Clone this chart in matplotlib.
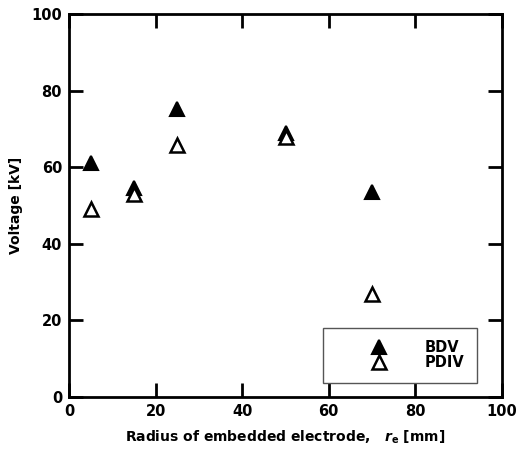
import matplotlib
matplotlib.use("Agg")
import matplotlib.pyplot as plt

radius = [5, 15, 25, 50, 70]
bdv = [61, 54.5, 75.3, 69, 53.5]
pdiv = [49.2, 53, 65.8, 68, 27]

plt.rcParams["font.family"] = ["DejaVu Sans"]
plt.rcParams["font.weight"] = "bold"
plt.rcParams["mathtext.fontset"] = "dejavusans"

fig = plt.figure(figsize=(5.16, 4.62), dpi=100)
ax = fig.add_axes([69 / 516, 1 - 397 / 462, 433 / 516, 383 / 462])

ax.plot(radius, bdv, ls="none", marker="^", ms=10, mfc="black", mec="black",
        mew=1.5, label="BDV")
ax.plot(radius, pdiv, ls="none", marker="^", ms=10, mfc="white", mec="black",
        mew=1.8, label="PDIV")

ax.set_xlim(0, 100)
ax.set_ylim(0, 100)
ax.set_xticks(range(0, 101, 20))
ax.set_yticks(range(0, 101, 20))
ax.tick_params(direction="in", length=10, width=2, labelsize=10.5, pad=5,
               top=True, right=True)
for s in ax.spines.values():
    s.set_linewidth(2)
for lab in ax.get_xticklabels() + ax.get_yticklabels():
    lab.set_fontweight("bold")

ax.set_xlabel(r"Radius of embedded electrode,   $\mathit{r}_{\mathbf{e}}$ [mm]",
              fontsize=10, fontweight="bold", labelpad=7)
ax.set_ylabel("Voltage [kV]", fontsize=10, fontweight="bold", labelpad=6)

leg = ax.legend(loc="lower right", bbox_to_anchor=(0.942, 0.037),
                fancybox=False, framealpha=1, edgecolor="#555555",
                borderpad=0.85, handletextpad=0.2, labelspacing=0.0,
                borderaxespad=0, prop={"weight": "bold", "size": 10.5},
                handlelength=5.9)
leg.get_frame().set_linewidth(1)

fig.savefig("out.png", dpi=100)
